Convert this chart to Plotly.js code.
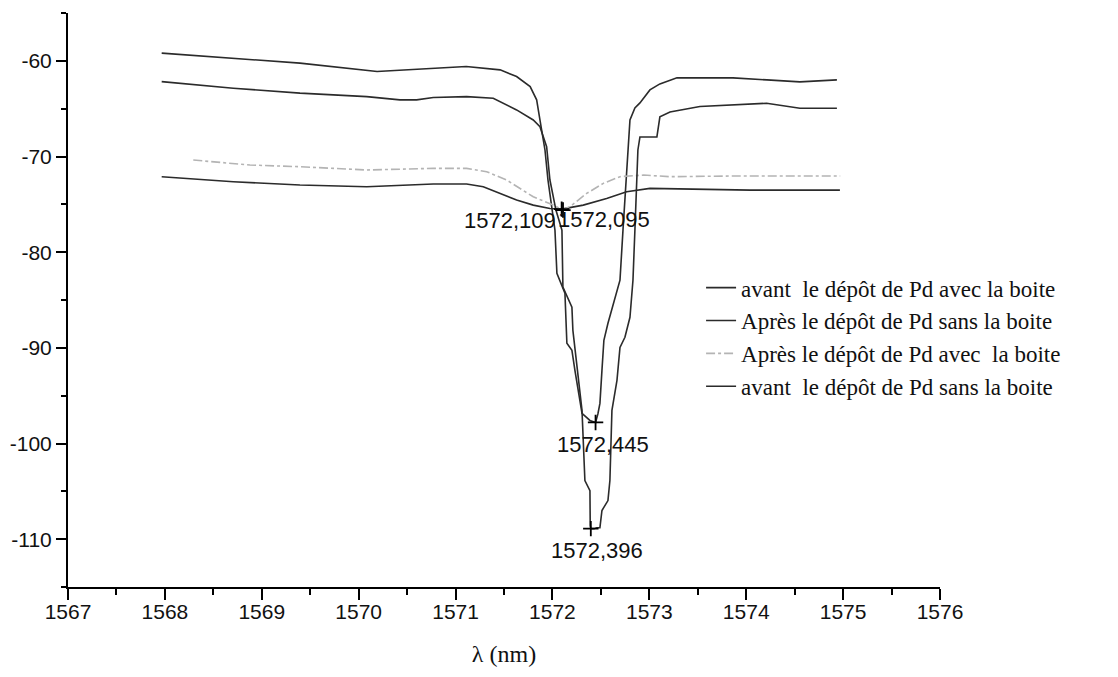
<!DOCTYPE html>
<html>
<head>
<meta charset="utf-8">
<script src="https://cdn.plot.ly/plotly-3.0.1.min.js"></script>
<style>
html,body{margin:0;padding:0;background:#fff;}
#chart{width:1118px;height:677px;}
</style>
</head>
<body>
<div id="chart"></div>
<script>
// Series names (legend order)
var seriesNames = [
  "avant  le dépôt de Pd avec la boite",
  "Après le dépôt de Pd sans la boite",
  "Après le dépôt de Pd avec  la boite",
  "avant  le dépôt de Pd sans la boite"
];

// avant le dépôt de Pd avec la boite (shallow, solid)
var xAvantAvec = [1567.967,1568.706,1569.394,1570.083,1570.770,1571.114,1571.286,1571.630,1571.802,1571.974,1572.095,1572.318,1572.559,1572.766,1573.006,1573.522,1574.038,1574.967];
var yAvantAvec = [-72.11,-72.64,-72.98,-73.16,-72.88,-72.88,-73.16,-74.55,-75.08,-75.43,-75.5,-75.08,-74.38,-73.68,-73.33,-73.44,-73.51,-73.51];

// Après le dépôt de Pd sans la boite (top curve, min 1572,445)
var xApresSans = [1567.967,1568.706,1569.394,1570.190,1570.430,1570.770,1571.110,1571.460,1571.630,1571.770,1571.837,1571.871,1571.923,1571.954,1571.995,1572.026,1572.046,1572.129,1572.149,1572.201,1572.232,1572.284,1572.305,1572.387,1572.445,1572.470,1572.490,1572.511,1572.531,1572.573,1572.645,1572.697,1572.728,1572.748,1572.769,1572.800,1572.851,1572.903,1573.006,1573.109,1573.285,1573.863,1574.214,1574.554,1574.936];
var yApresSans = [-59.19,-59.72,-60.24,-61.12,-61.00,-60.77,-60.59,-60.94,-61.64,-62.69,-64.08,-66.18,-69.32,-72.46,-75.60,-77.70,-82.20,-84.29,-89.53,-90.26,-92.36,-95.50,-96.86,-97.59,-97.8,-96.86,-95.81,-92.36,-89.21,-87.43,-84.71,-82.93,-77.70,-74.55,-70.37,-66.18,-64.92,-64.40,-63.04,-62.41,-61.78,-61.78,-61.99,-62.20,-61.99];

// Après le dépôt de Pd avec la boite (grey dashed)
var xApresAvec = [1568.293,1568.878,1569.394,1570.083,1570.770,1571.114,1571.321,1571.527,1571.802,1572.008,1572.109,1572.200,1572.353,1572.525,1572.697,1572.940,1573.213,1573.863,1574.970];
var yApresAvec = [-70.37,-70.89,-71.07,-71.41,-71.24,-71.24,-71.59,-72.46,-74.21,-75.08,-75.6,-75.1,-73.86,-72.81,-72.11,-71.94,-72.11,-72.04,-72.04];

// avant le dépôt de Pd sans la boite (deepest, min 1572,396)
var xAvantSans = [1567.967,1568.706,1569.394,1570.083,1570.426,1570.598,1570.770,1571.114,1571.389,1571.630,1571.802,1571.871,1571.940,1571.974,1572.036,1572.098,1572.108,1572.201,1572.211,1572.263,1572.305,1572.335,1572.387,1572.390,1572.396,1572.428,1572.459,1572.490,1572.511,1572.573,1572.593,1572.614,1572.666,1572.697,1572.748,1572.800,1572.831,1572.851,1572.882,1572.903,1573.078,1573.109,1573.213,1573.522,1574.210,1574.554,1574.936];
var yAvantSans = [-62.17,-62.86,-63.38,-63.74,-64.08,-64.08,-63.84,-63.74,-63.91,-65.13,-66.18,-66.88,-68.97,-72.46,-75.60,-77.70,-83.66,-85.76,-88.17,-92.67,-96.54,-103.87,-104.92,-108.59,-108.9,-108.9,-108.8,-108.8,-107.0,-105.97,-103.87,-96.54,-93.40,-89.95,-88.90,-86.81,-82.93,-77.70,-69.32,-67.96,-67.96,-65.86,-65.34,-64.78,-64.43,-64.95,-64.95];

// Marked minima
var peakX = [1572.109, 1572.095, 1572.445, 1572.396];
var peakY = [-75.6, -75.5, -97.8, -108.9];
var peakLabels = ["1572,109", "1572,095", "1572,445", "1572,396"];

// Axis ticks
var xTicks = [1567,1568,1569,1570,1571,1572,1573,1574,1575,1576];
var yTicks = [-110,-100,-90,-80,-70,-60];

var dark = "#2b2b2b";
var traces = [
  {x:xAvantAvec, y:yAvantAvec, name:seriesNames[0], mode:"lines", line:{color:dark, width:1.6}},
  {x:xApresSans, y:yApresSans, name:seriesNames[1], mode:"lines", line:{color:dark, width:1.6}},
  {x:xApresAvec, y:yApresAvec, name:seriesNames[2], mode:"lines", line:{color:"#b4b4b4", width:1.6, dash:"dashdot"}},
  {x:xAvantSans, y:yAvantSans, name:seriesNames[3], mode:"lines", line:{color:dark, width:1.6}},
  {x:peakX, y:peakY, mode:"markers", showlegend:false, hoverinfo:"skip",
   marker:{symbol:"cross-thin", size:11, color:"#000", line:{color:"#000", width:1.8}}}
];

var numFont = {family:"Liberation Sans, Arial, sans-serif", size:21, color:"#111"};
var labelFont = {family:"Liberation Sans, Arial, sans-serif", size:22, color:"#111"};

var shifts = [
  {xanchor:"right", xshift:-5, yshift:-10},
  {xanchor:"left", xshift:-6, yshift:-10},
  {xanchor:"center", xshift:7, yshift:-22},
  {xanchor:"center", xshift:6, yshift:-22}
];
var annotations = peakLabels.map(function(t,i){
  return {x:peakX[i], y:peakY[i], xref:"x", yref:"y", text:t, showarrow:false,
          xanchor:shifts[i].xanchor, yanchor:"middle", xshift:shifts[i].xshift, yshift:shifts[i].yshift,
          font:labelFont};
});

var layout = {
  width:1118, height:677,
  margin:{l:68, r:178, t:13, b:90},
  paper_bgcolor:"#fff", plot_bgcolor:"#fff",
  showlegend:true,
  legend:{x:0.726, y:0.559, xanchor:"left", yanchor:"top", bgcolor:"rgba(0,0,0,0)",
          font:{family:"Liberation Serif, Times New Roman, serif", size:23, color:"#111"},
          tracegroupgap:0},
  xaxis:{range:[1567,1576], tickmode:"array", tickvals:xTicks, ticktext:xTicks.map(String),
         showgrid:false, zeroline:false, showline:true, linecolor:"#000", linewidth:2,
         ticks:"outside", ticklen:11, tickwidth:2, tickcolor:"#000",
         ticklabelstandoff:-6,
         minor:{dtick:0.5, ticks:"outside", ticklen:6, tickwidth:2, tickcolor:"#000", showgrid:false},
         tickfont:numFont,
         title:{text:"λ (nm)", font:{family:"Liberation Serif, Times New Roman, serif", size:24, color:"#111"}, standoff:23}},
  yaxis:{range:[-115,-55], tickmode:"array", tickvals:yTicks, ticktext:yTicks.map(String),
         showgrid:false, zeroline:false, showline:true, linecolor:"#000", linewidth:2,
         ticks:"outside", ticklen:10, tickwidth:2, tickcolor:"#000",
         minor:{dtick:5, ticks:"outside", ticklen:5, tickwidth:2, tickcolor:"#000", showgrid:false},
         tickfont:numFont},
  annotations:annotations
};

Plotly.newPlot("chart", traces, layout, {displayModeBar:false, staticPlot:true});
</script>
</body>
</html>
